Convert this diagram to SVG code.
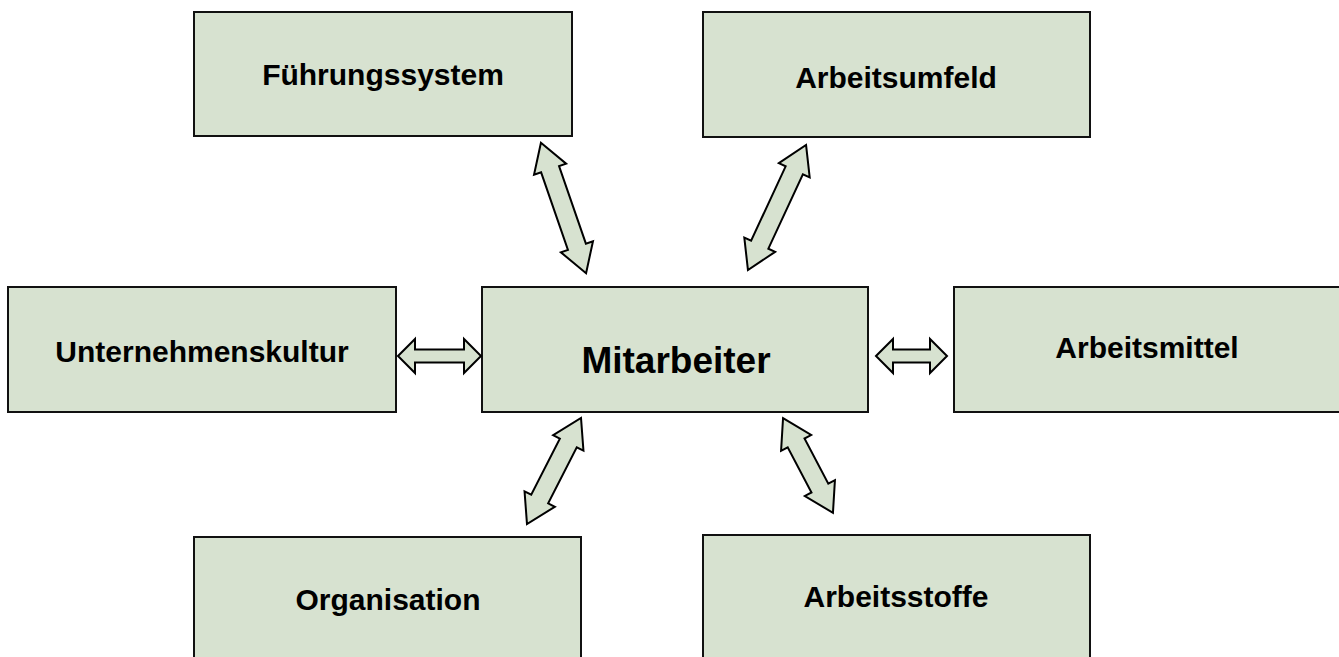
<svg xmlns="http://www.w3.org/2000/svg" width="1339" height="657" viewBox="0 0 1339 657">
<style>
.box{fill:#d7e2d0;stroke:#111;stroke-width:2}
.lbl{font-family:"Liberation Sans",Arial,sans-serif;font-weight:bold;font-size:30px;fill:#000;text-anchor:middle}
.big{font-size:37px}
.arr{fill:#d7e2d0;stroke:#000;stroke-width:2;stroke-linejoin:miter}
</style>
<rect width="1339" height="657" fill="#fff"/>
<g id="fuehrungssystem"><rect class="box" x="194" y="12" width="378" height="124"/><text class="lbl" x="383" y="85">Führungssystem</text></g>
<g id="arbeitsumfeld"><rect class="box" x="703" y="12" width="387" height="125"/><text class="lbl" x="896" y="88">Arbeitsumfeld</text></g>
<g id="unternehmenskultur"><rect class="box" x="8" y="287" width="388" height="125"/><text class="lbl" x="202" y="362">Unternehmenskultur</text></g>
<g id="mitarbeiter"><rect class="box" x="482" y="287" width="386" height="125"/><text class="lbl big" x="676" y="373">Mitarbeiter</text></g>
<g id="arbeitsmittel"><rect class="box" x="954" y="287" width="400" height="125"/><text class="lbl" x="1147" y="358">Arbeitsmittel</text></g>
<g id="organisation"><rect class="box" x="194" y="537" width="387" height="140"/><text class="lbl" x="388" y="610">Organisation</text></g>
<g id="arbeitsstoffe"><rect class="box" x="703" y="535" width="387" height="140"/><text class="lbl" x="896" y="607">Arbeitsstoffe</text></g>
<g id="connectors">
<polygon class="arr" transform="translate(563.5,208) rotate(70.9)" points="-69,0 -41,-17 -41,-9.5 41,-9.5 41,-17 69,0 41,17 41,9.5 -41,9.5 -41,17"/>
<polygon class="arr" transform="translate(777,207.5) rotate(114.9)" points="-69,0 -41,-17 -41,-9.5 41,-9.5 41,-17 69,0 41,17 41,9.5 -41,9.5 -41,17"/>
<polygon class="arr" transform="translate(554,471) rotate(117)" points="-59.5,0 -31.5,-17 -31.5,-9.5 31.5,-9.5 31.5,-17 59.5,0 31.5,17 31.5,9.5 -31.5,9.5 -31.5,17"/>
<polygon class="arr" transform="translate(808,465.5) rotate(62.2)" points="-53.5,0 -25.5,-17 -25.5,-9.5 25.5,-9.5 25.5,-17 53.5,0 25.5,17 25.5,9.5 -25.5,9.5 -25.5,17"/>
<polygon class="arr" transform="translate(439.5,356)" points="-41.5,0 -24.5,-17 -24.5,-6.5 24.5,-6.5 24.5,-17 41.5,0 24.5,17 24.5,6.5 -24.5,6.5 -24.5,17"/>
<polygon class="arr" transform="translate(911.5,356)" points="-35.5,0 -18.5,-17 -18.5,-6.5 18.5,-6.5 18.5,-17 35.5,0 18.5,17 18.5,6.5 -18.5,6.5 -18.5,17"/>
</g>
</svg>
